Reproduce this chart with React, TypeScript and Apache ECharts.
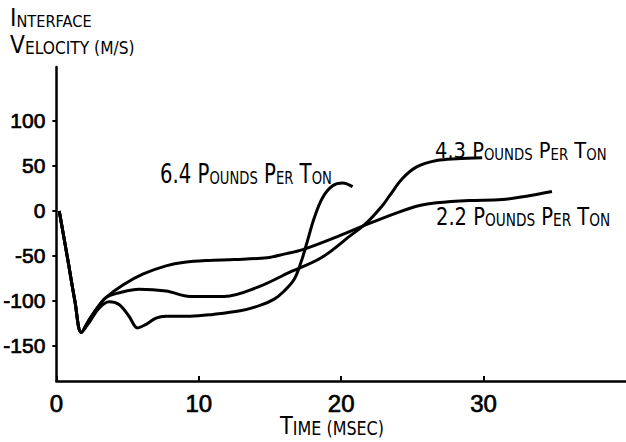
import React, { useEffect, useRef } from "react";
import * as echarts from "echarts";

const xTicks = [0, 10, 20, 30];
const yTicks = [-150, -100, -50, 0, 50, 100];

const curve22: [number, number][] = [
  [0.2, 0], [0.8, -54], [1.3, -100], [1.75, -135], [2.3, -121], [3.0, -105], [3.5, -96],
  [4.7, -82], [6.1, -70], [7.7, -61], [9.0, -57], [10.6, -55], [12.5, -54], [14.8, -52],
  [16.0, -48], [17.3, -43], [19.5, -30], [21.8, -15], [24.1, -1], [25.5, 6], [26.7, 9],
  [29.0, 11.5], [31.3, 12.6], [33.2, 17], [34.8, 21.6],
];

const curve43: [number, number][] = [
  [0.2, 0], [0.8, -54], [1.3, -100], [1.75, -135], [2.3, -121], [3.0, -105], [3.5, -96],
  [4.4, -91], [5.8, -87], [7.7, -89], [9.4, -95], [11.8, -95], [14.1, -85], [16.4, -68],
  [18.6, -52], [20.6, -28], [21.8, -13], [22.9, 6], [23.4, 17], [24.3, 36], [25.3, 49],
  [26.7, 56], [28.1, 58], [29.9, 59],
];

const curve64: [number, number][] = [
  [0.2, 0], [0.8, -54], [1.3, -100], [1.75, -135], [2.3, -124], [3.0, -108], [3.7, -101],
  [4.4, -104], [5.1, -117], [5.7, -130], [6.3, -126], [7.0, -119], [7.7, -117], [9.4, -117],
  [11.0, -115], [12.9, -111], [14.3, -105], [15.3, -98], [16.0, -89], [16.7, -76], [17.2, -56],
  [17.6, -35], [18.1, -8], [18.7, 15], [19.4, 28], [20.1, 31], [20.8, 27],
];

const FONT = "'DejaVu Sans', sans-serif";
const NUM_FONT = "'Liberation Sans', Arial, sans-serif";
const BORDER = { textBorderColor: "#000", textBorderWidth: 0.7 };

function capsRich(big: number, small: number) {
  return {
    b: { fontSize: big, fontFamily: FONT, color: "#000", verticalAlign: "bottom" as const },
    s: { fontSize: small, fontFamily: FONT, color: "#000", verticalAlign: "bottom" as const },
  };
}

function capsText(text: string, x: number, y: number, sx: number, big: number, small: number) {
  return {
    type: "text",
    x,
    y,
    scaleX: sx,
    style: { text, rich: capsRich(big, small), align: "left", verticalAlign: "top" },
  };
}

export default function App() {
  const ref = useRef<HTMLDivElement>(null);
  useEffect(() => {
    if (!ref.current) return;
    const chart = echarts.init(ref.current, null, { renderer: "svg" });
    const lineStyle = { color: "#000", width: 3 };
    chart.setOption({
      animation: false,
      backgroundColor: "#fff",
      grid: { left: 54, right: 0, top: 67, bottom: 61 },
      xAxis: {
        type: "value",
        min: 0,
        max: 40,
        splitLine: { show: false },
        axisLine: { onZero: false, lineStyle: { color: "#000", width: 2.5 } },
        axisTick: { inside: true, length: 5, customValues: xTicks, lineStyle: { color: "#000", width: 2 } },
        axisLabel: {
          customValues: xTicks,
          fontSize: 24,
          fontFamily: NUM_FONT,
          color: "#000",
          margin: 10,
          ...BORDER,
        },
      },
      yAxis: {
        type: "value",
        min: -189,
        max: 160,
        splitLine: { show: false },
        axisLine: { onZero: false, lineStyle: { color: "#000", width: 2.5 } },
        axisTick: { length: 4, customValues: yTicks, lineStyle: { color: "#000", width: 2 } },
        axisLabel: {
          customValues: yTicks,
          fontSize: 21,
          fontFamily: NUM_FONT,
          color: "#000",
          margin: 11,
          formatter: (v: number) => String(v),
          ...BORDER,
        },
      },
      series: [
        { name: "2.2 Pounds Per Ton", type: "line", data: curve22, smooth: 0.35, symbol: "none", lineStyle },
        { name: "4.3 Pounds Per Ton", type: "line", data: curve43, smooth: 0.35, symbol: "none", lineStyle },
        { name: "6.4 Pounds Per Ton", type: "line", data: curve64, smooth: 0.35, symbol: "none", lineStyle },
      ],
      graphic: [
        capsText("{b|I}{s|NTERFACE}", 10, 6, 0.91, 24, 16),
        capsText("{b|V}{s|ELOCITY (M/S)}", 10, 33, 0.91, 24, 17),
        capsText("{b|T}{s|IME (MSEC)}", 280, 413, 0.84, 25, 19),
        capsText("{b|6.4 P}{s|OUNDS}{b| P}{s|ER}{b| T}{s|ON}", 160, 160, 0.73, 27, 18),
        capsText("{b|4.3 P}{s|OUNDS}{b| P}{s|ER}{b| T}{s|ON}", 435, 140, 0.885, 22, 15),
        capsText("{b|2.2 P}{s|OUNDS}{b| P}{s|ER}{b| T}{s|ON}", 436, 204, 0.78, 25, 17.5),
      ],
    });
    return () => chart.dispose();
  }, []);
  return (
    <div
      ref={ref}
      style={{ position: "fixed", left: 0, top: 0, width: 626, height: 442, background: "#fff" }}
    />
  );
}
